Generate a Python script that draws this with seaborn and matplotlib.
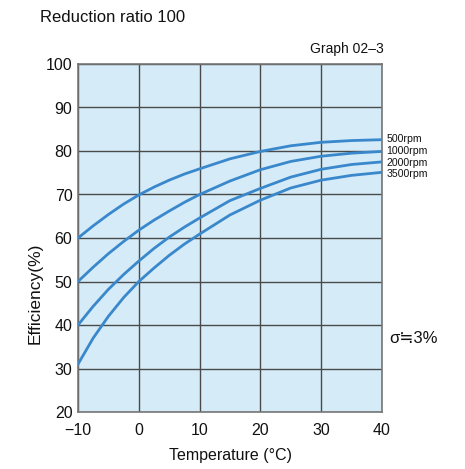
import numpy as np
import pandas as pd
import matplotlib
matplotlib.use("Agg")
import matplotlib.pyplot as plt
import seaborn as sns

# Efficiency (%) vs. temperature for a reduction ratio of 100
temperature = [-10, -7.5, -5, -2.5, 0, 2.5, 5, 7.5, 10, 15, 20, 25, 30, 35, 40]
eff_500 = [60.0, 62.8, 65.4, 67.8, 69.9, 71.7, 73.3, 74.7, 75.9,
           78.2, 79.9, 81.2, 82.0, 82.4, 82.6]
eff_1000 = [50.0, 53.3, 56.4, 59.2, 61.8, 64.1, 66.2, 68.2, 70.0,
            73.1, 75.7, 77.6, 78.8, 79.5, 79.9]
eff_2000 = [40.0, 44.3, 48.2, 51.6, 54.7, 57.6, 60.2, 62.5, 64.6,
            68.6, 71.4, 74.0, 75.8, 76.9, 77.5]
eff_3500 = [31.0, 37.0, 42.0, 46.3, 50.0, 53.1, 56.0, 58.6, 60.9,
            65.3, 68.7, 71.5, 73.3, 74.4, 75.1]
speed_labels = ["500rpm", "1000rpm", "2000rpm", "3500rpm"]
x_ticks = [-10, 0, 10, 20, 30, 40]
y_ticks = [20, 30, 40, 50, 60, 70, 80, 90, 100]

series = [eff_500, eff_1000, eff_2000, eff_3500]
df = pd.concat(
    [pd.DataFrame({"Temperature": temperature, "Efficiency": s, "Speed": lab})
     for s, lab in zip(series, speed_labels)],
    ignore_index=True,
)

sns.set_style("white")
plt.rcParams["font.family"] = ["Liberation Sans", "DejaVu Sans"]

line_color = "#3a88cc"
fig = plt.figure(figsize=(4.65, 4.69), dpi=100)
ax = fig.add_axes([78 / 465, 1 - 412 / 469, 304 / 465, 348 / 469])
ax.set_facecolor("#d5ebf8")

sns.lineplot(data=df, x="Temperature", y="Efficiency", hue="Speed",
             palette=[line_color] * 4, linewidth=2.0, legend=False, ax=ax,
             zorder=3)

ax.set_xlim(-10, 40)
ax.set_ylim(20, 100)
ax.set_xticks(x_ticks)
ax.set_yticks(y_ticks)
ax.set_xticklabels([f"{t}" if t >= 0 else f"\u2212{abs(t)}" for t in x_ticks])
ax.grid(True, color="#4a4a4a", linewidth=1.0, zorder=1)
ax.set_axisbelow(True)
for sp in ax.spines.values():
    sp.set_color("#777777")
    sp.set_linewidth(1.2)
ax.tick_params(axis="both", length=0, labelsize=11.5, colors="#111111")
ax.tick_params(axis="x", pad=8)
ax.tick_params(axis="y", pad=4)

ax.set_xlabel("Temperature (\u00b0C)", fontsize=11.5, color="#111111", labelpad=7)
ax.set_ylabel("Efficiency(%)", fontsize=12.5, color="#111111")
ax.yaxis.set_label_coords(-0.118, 0.34)

# Speed labels at the right end of each curve, spread slightly apart
label_nudge = [0.5, 0.5, -0.5, -1.5]
for s, lab, dy in zip(series, speed_labels, label_nudge):
    ax.annotate(lab, xy=(temperature[-1], s[-1]), xytext=(3, dy),
                textcoords="offset points", va="center", ha="left",
                fontsize=7.6, color="#111111", annotation_clip=False)

ax.text(1.025, 0.21, "\u03c3\u22523%", transform=ax.transAxes, fontsize=12,
        color="#111111", ha="left", va="center",
        family=["Liberation Sans", "DejaVu Sans"])
ax.text(1.005, 1.022, "Graph 02\u20133", transform=ax.transAxes, fontsize=10,
        color="#111111", ha="right", va="bottom")
fig.text(40 / 465, 1 - 17 / 469, "Reduction ratio 100", fontsize=12,
         color="#111111", ha="left", va="center")

fig.savefig("out.png", dpi=100)
